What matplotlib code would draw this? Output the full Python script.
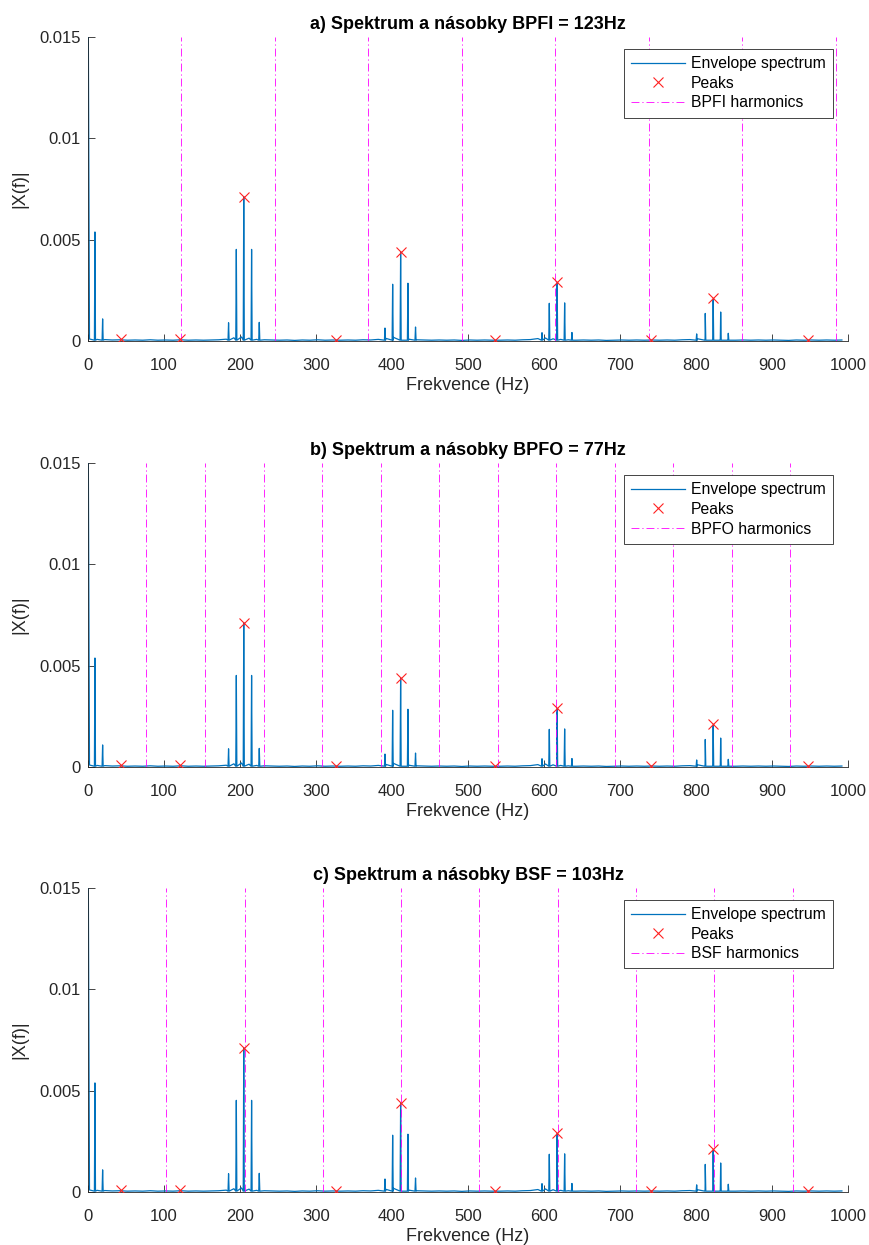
import numpy as np
import matplotlib
matplotlib.use("Agg")
import matplotlib.pyplot as plt
from matplotlib.lines import Line2D
from matplotlib.ticker import FuncFormatter

plt.rcParams['font.family'] = ['Liberation Sans', 'DejaVu Sans']

# spectral lines (Hz, |X(f)|)
spike_freq = [0.0, 9.2, 19.3,
              185.0, 195.2, 205.0, 215.3, 225.4,
              390.8, 400.9, 411.4, 421.0, 431.0,
              597.4, 607.0, 617.3, 627.2, 636.8,
              800.9, 812.2, 822.6, 832.5, 842.5]
spike_amp = [0.0200, 0.00538, 0.00109,
             0.00090, 0.00452, 0.00712, 0.00452, 0.00092,
             0.00064, 0.00280, 0.00440, 0.00285, 0.00069,
             0.00041, 0.00186, 0.00288, 0.00188, 0.00042,
             0.00035, 0.00136, 0.00206, 0.00143, 0.00038]
spike_base = 0.00004

# noise floor, one value every 10 Hz starting at 2 Hz
floor_freq = np.arange(2, 1000, 10)
floor_amp = [
    0.00010, 0.00008, 0.00007, 0.00005, 0.00006, 0.00004, 0.00005, 0.00004, 0.00006, 0.00004,
    0.00005, 0.00004, 0.00006, 0.00004, 0.00005, 0.00004, 0.00005, 0.00006, 0.00009, 0.00016,
    0.00020, 0.00014, 0.00008, 0.00006, 0.00005, 0.00004, 0.00005, 0.00003, 0.00005, 0.00004,
    0.00006, 0.00004, 0.00005, 0.00004, 0.00005, 0.00004, 0.00006, 0.00005, 0.00008, 0.00013,
    0.00018, 0.00012, 0.00009, 0.00006, 0.00005, 0.00004, 0.00005, 0.00004, 0.00005, 0.00003,
    0.00005, 0.00004, 0.00005, 0.00004, 0.00004, 0.00005, 0.00004, 0.00006, 0.00007, 0.00012,
    0.00015, 0.00011, 0.00008, 0.00006, 0.00004, 0.00005, 0.00004, 0.00005, 0.00003, 0.00004,
    0.00005, 0.00004, 0.00005, 0.00004, 0.00005, 0.00004, 0.00005, 0.00004, 0.00006, 0.00007,
    0.00011, 0.00012, 0.00009, 0.00007, 0.00005, 0.00004, 0.00005, 0.00004, 0.00005, 0.00004,
    0.00005, 0.00004, 0.00003, 0.00005, 0.00004, 0.00005, 0.00004, 0.00005, 0.00004, 0.00005]

# peaks found by findpeaks
peak_freq = [43.0, 120.5, 326.3, 411.4, 205.3, 535.5, 617.5, 740.8, 822.8, 947.0]
peak_amp = [0.00008, 0.00008, 0.00006, 0.00440, 0.00712, 0.00005, 0.00290, 0.00005, 0.00210, 0.00005]

panels = [
    ('a) Spektrum a násobky BPFI = 123Hz', 'BPFI harmonics', 123),
    ('b) Spektrum a násobky BPFO = 77Hz', 'BPFO harmonics', 77),
    ('c) Spektrum a násobky BSF = 103Hz', 'BSF harmonics', 103),
]
axes_bottom = [0.7261, 0.3839, 0.0426]

blue = '#0072BD'
ink = '#262626'
dashdot = (0, (9.5, 3.5, 1.5, 3.5))

# build the spectrum line from floor + spikes
fx = list(floor_freq)
fy = list(floor_amp)
for f, a in zip(spike_freq, spike_amp):
    if f > 0:
        fx += [f - 0.7, f, f + 0.7]
        fy += [spike_base, a, spike_base]
    else:
        fx += [f]
        fy += [a]
order = np.argsort(fx)
spec_f = np.array(fx)[order]
spec_a = np.array(fy)[order]

fig = plt.figure(figsize=(8.7, 12.45), dpi=100)

for (title, harm_label, base_f), bottom in zip(panels, axes_bottom):
    ax = fig.add_axes([0.1011, bottom, 0.8736, 0.2442])
    ax.plot(spec_f, spec_a, color=blue, lw=0.9, zorder=2)
    k = 1
    while k * base_f <= 1000:
        ax.axvline(k * base_f, color='magenta', lw=0.6, linestyle=dashdot, zorder=3)
        k += 1
    ax.plot(peak_freq, peak_amp, 'x', color='#FF2020', ms=6.5, mew=0.8, zorder=4)

    ax.set_xlim(0, 1000)
    ax.set_ylim(0, 0.015)
    ax.set_xticks(np.arange(0, 1001, 100))
    ax.set_yticks([0, 0.005, 0.01, 0.015])
    ax.yaxis.set_major_formatter(FuncFormatter(lambda v, p: f'{v:g}'))
    for s in ['top', 'right']:
        ax.spines[s].set_visible(False)
    for s in ['left', 'bottom']:
        ax.spines[s].set_color(ink)
        ax.spines[s].set_linewidth(0.6)
    ax.tick_params(direction='in', length=5, width=0.6, colors=ink,
                   labelsize=12, labelcolor=ink)
    ax.tick_params(axis='x', pad=12)
    ax.tick_params(axis='y', pad=5)
    ax.set_xlabel('Frekvence (Hz)', fontsize=13, color=ink, labelpad=3)
    ax.set_ylabel('|X(f)|', fontsize=13, color=ink, labelpad=8)
    ax.set_title(title, fontsize=13, fontweight='bold', color='black', pad=6)

    handles = [
        Line2D([], [], color=blue, lw=0.9),
        Line2D([], [], color='#FF2020', marker='x', ls='none', ms=6.5, mew=0.8),
        Line2D([], [], color='magenta', lw=0.6, linestyle=dashdot),
    ]
    leg = ax.legend(handles, ['Envelope spectrum', 'Peaks', harm_label],
                    loc='upper right', bbox_to_anchor=(0.980, 0.9605),
                    fontsize=11.3, frameon=True, fancybox=False,
                    handlelength=3.4, handletextpad=0.4, labelspacing=0.3,
                    borderpad=0.45, borderaxespad=0)
    leg.get_frame().set_edgecolor(ink)
    leg.get_frame().set_linewidth(0.6)
    leg.get_frame().set_alpha(1)
    leg.set_zorder(10)

fig.savefig('out.png', dpi=100)
